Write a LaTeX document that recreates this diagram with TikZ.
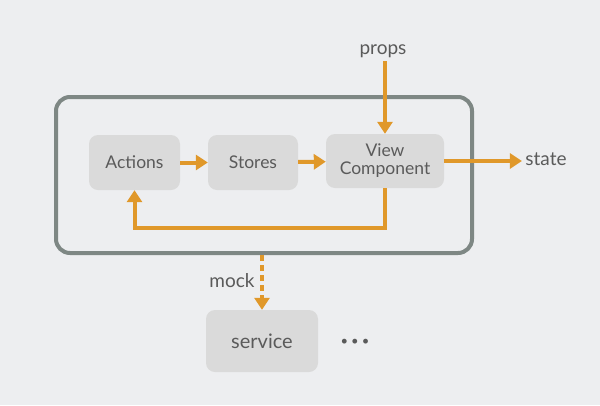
\documentclass[tikz,border=0pt]{standalone}
\usepackage{fontspec}
\setmainfont{Lato}
\usetikzlibrary{arrows.meta, positioning}
\definecolor{flowOrange}{HTML}{E0982A}
\definecolor{frameGray}{HTML}{7E8784}
\definecolor{boxGray}{HTML}{DADADA}
\definecolor{textGray}{HTML}{5A5A5A}
\definecolor{bgGray}{HTML}{EDEEF0}

\begin{document}
\begin{tikzpicture}[x=1pt, y=-1pt, >={Triangle[length=12pt, width=15pt]},
    font=\fontsize{19}{21}\selectfont, text=textGray,
    box/.style={fill=boxGray, rounded corners=9pt, minimum height=55pt, align=center, inner sep=2pt,
      font=\fontsize{17.5}{18}\selectfont},
    flow/.style={flowOrange, line width=4pt}]
  \fill[bgGray] (0,0) rectangle (600,405);
  \useasboundingbox (0,0) rectangle (600,405);
  \node[draw=frameGray, line width=4pt, rounded corners=14pt, minimum width=416pt, minimum height=156pt] (module) at (264,175) {};
  \node[box, minimum width=91pt] (actions) at (134.5,162.5) {Actions};
  \node[box, minimum width=90pt] (stores) at (253,162.5) {Stores};
  \node[box, minimum width=118pt, minimum height=54pt] (view) at (385,161) {View\\Component};
  \node[box, minimum width=112pt, minimum height=62pt, font=\fontsize{20}{22}\selectfont] (service) at (262,341) {service};
  \node (props) at (383,51) {props};
  \node (state) at (546,159) {state};
  \node (mock) at (232,281) {mock};
  \node (more) at (355,342) {\fontsize{13}{14}\selectfont\textbullet\hspace{3pt}\textbullet\hspace{3pt}\textbullet};
  \draw[flow, ->] (actions) -- (stores);
  \draw[flow, ->] (stores) -- (view);
  \draw[flow, ->] (view.north |- props.south) -- (view.north);
  \draw[flow, ->] (view.east) -- (view.east -| state.west);
  \draw[flow, ->] (view.south) -- ++(0,40) -| (actions.south);
  \draw[flow, dash pattern=on 6pt off 4pt, ->] (service.north |- module.south) -- (service.north);
\end{tikzpicture}
\end{document}
